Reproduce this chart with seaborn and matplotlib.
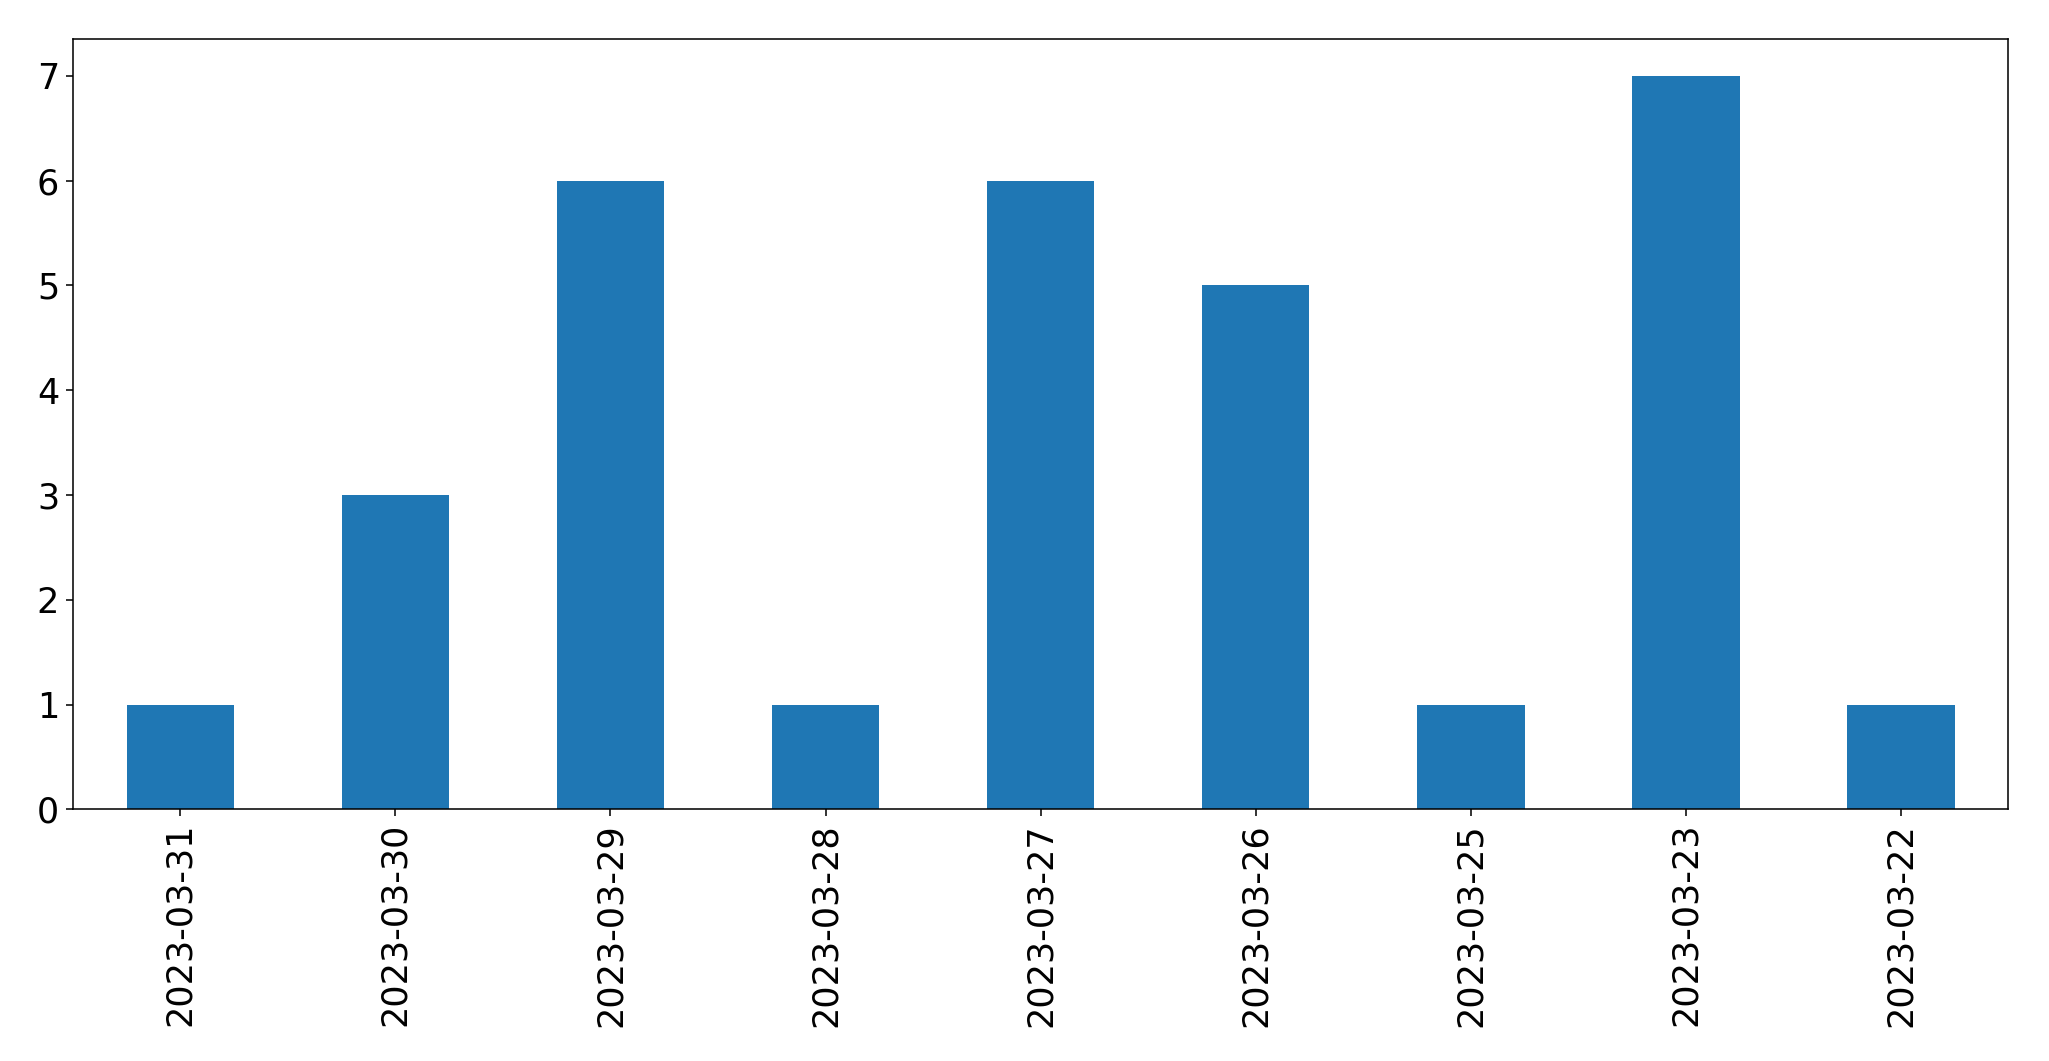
#!/usr/bin/env python3
# -*- coding: utf-8 -*-
import pandas as pd
import matplotlib
matplotlib.use('Agg')
import matplotlib.pyplot as plt
import seaborn as sns

# --------------------
# DATA
# --------------------
dates = ['2023-03-31', '2023-03-30', '2023-03-29', '2023-03-28', '2023-03-27',
         '2023-03-26', '2023-03-25', '2023-03-23', '2023-03-22']
counts = [1, 3, 6, 1, 6, 5, 1, 7, 1]

df = pd.DataFrame({'date': dates, 'count': counts})

# --------------------
# PLOT
# --------------------
sns.set_style('white')
plt.rcParams['font.family'] = ['DejaVu Sans']
plt.rcParams.update({
    'text.color': 'black',
    'axes.labelcolor': 'black',
    'xtick.color': 'black',
    'ytick.color': 'black',
    'axes.edgecolor': 'black',
})

dpi = 140
fig = plt.figure(figsize=(2049 / dpi, 1061 / dpi), dpi=dpi)
ax = fig.add_axes([0.0355, 0.2372, 0.9447, 0.7258])

sns.barplot(x='date', y='count', data=df, color='#1f77b4', saturation=1,
            width=0.5, linewidth=0, ax=ax, order=dates)

ax.set_xlim(-0.5, len(dates) - 0.5)
ax.set_ylim(0, max(counts) * 1.05)
ax.set_xlabel('')
ax.set_ylabel('')
ax.tick_params(labelsize=18, length=3.5, width=0.8, bottom=True, left=True)
plt.setp(ax.get_xticklabels(), rotation=90)
for sp in ax.spines.values():
    sp.set_visible(True)
    sp.set_linewidth(0.8)

fig.savefig('out.png', dpi=dpi)
plt.close()
